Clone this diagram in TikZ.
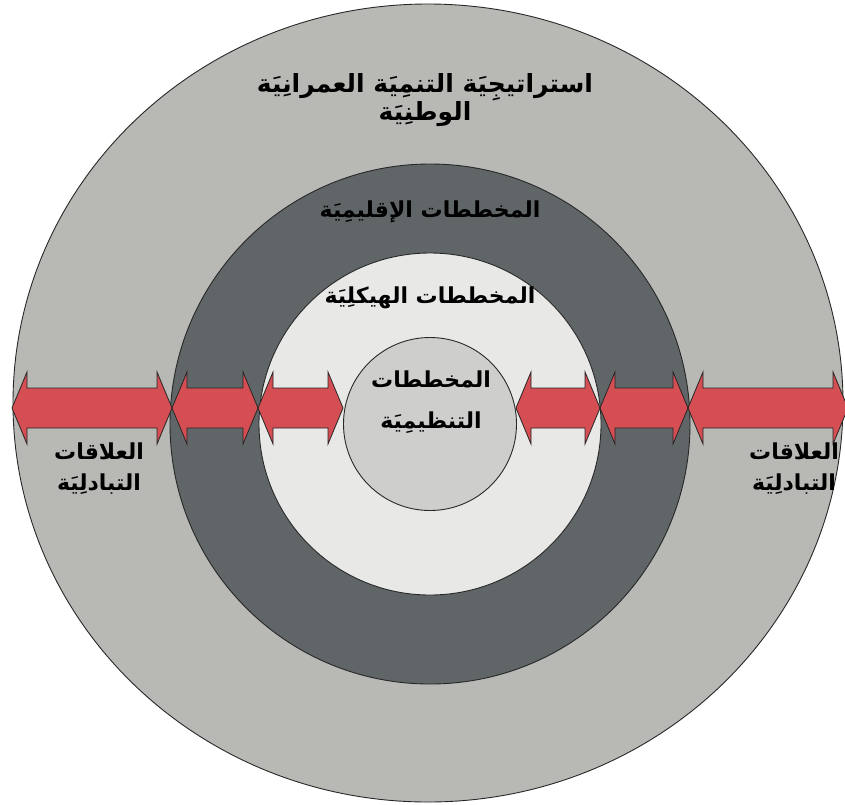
\documentclass[tikz,border=0pt]{standalone}
\usepackage{fontspec}
\usetikzlibrary{shapes.geometric}
\TeXXeTstate=1
\newfontfamily\arabicfont[Script=Arabic]{DejaVu Sans}
\definecolor{outergray}{RGB}{184,185,181}
\definecolor{darkring}{RGB}{96,101,103}
\definecolor{lightring}{RGB}{232,232,230}
\definecolor{innergray}{RGB}{206,206,204}
\definecolor{arrowred}{RGB}{212,78,83}
\definecolor{edge}{RGB}{40,40,40}
\newcommand\blockarrow[2]{%
  \draw[arrowbox] (#1,408) -- (#1+15,372) -- (#1+15,388) -- (#2-15,388) -- (#2-15,372)
    -- (#2,408) -- (#2-15,444) -- (#2-15,428) -- (#1+15,428) -- (#1+15,444) -- cycle;}
\tikzset{
  ring/.style={draw=edge, line width=0.9pt, inner sep=0pt, outer sep=0pt},
  arrowbox/.style={fill=arrowred, draw=black!85, line width=0.8pt, line join=miter},
  label/.style={font=\arabicfont\bfseries\fontsize{22}{25}\selectfont, align=center, inner sep=0pt, text=black},
}
\begin{document}
\begin{tikzpicture}[x=1pt,y=-1pt]
\useasboundingbox (0,0) rectangle (845,804);
\node[ring, ellipse, fill=outergray, minimum width=830pt, minimum height=798pt] (outer) at (428,403) {};
\node[ring, circle, fill=darkring, minimum size=520pt] (regional) at (430,424) {};
\node[ring, circle, fill=lightring, minimum size=342pt] (structural) at (430,424) {};
\node[ring, circle, fill=innergray, minimum size=173pt] (regulatory) at (430,424) {};
\blockarrow{12}{172}
\blockarrow{172}{258}
\blockarrow{258}{343}
\blockarrow{516}{600}
\blockarrow{600}{688}
\blockarrow{688}{848}
\node[label, font=\arabicfont\bfseries\fontsize{25}{26}\selectfont] (t1) at (425,100) {\beginR استراتيجِيَة التنمِيَة العمرانِيَة\endR\\\beginR الوطنِيَة\endR};
\node[label] (t2) at (430,212) {\beginR المخططات الإقليمِيَة\endR};
\node[label] (t3) at (430,298) {\beginR المخططات الهيكلِيَة\endR};
\node[label] (t4) at (431,402) {\beginR المخططات\endR\\[16pt]\beginR التنظيمِيَة\endR};
\node[label] (t5) at (99,469) {\beginR العلاقات\endR\\[6pt]\beginR التبادلِيَة\endR};
\node[label, anchor=west] (t6) at (749,469) {\beginR العلاقات\endR\\[6pt]\beginR التبادلِيَة\endR};
\end{tikzpicture}
\end{document}
